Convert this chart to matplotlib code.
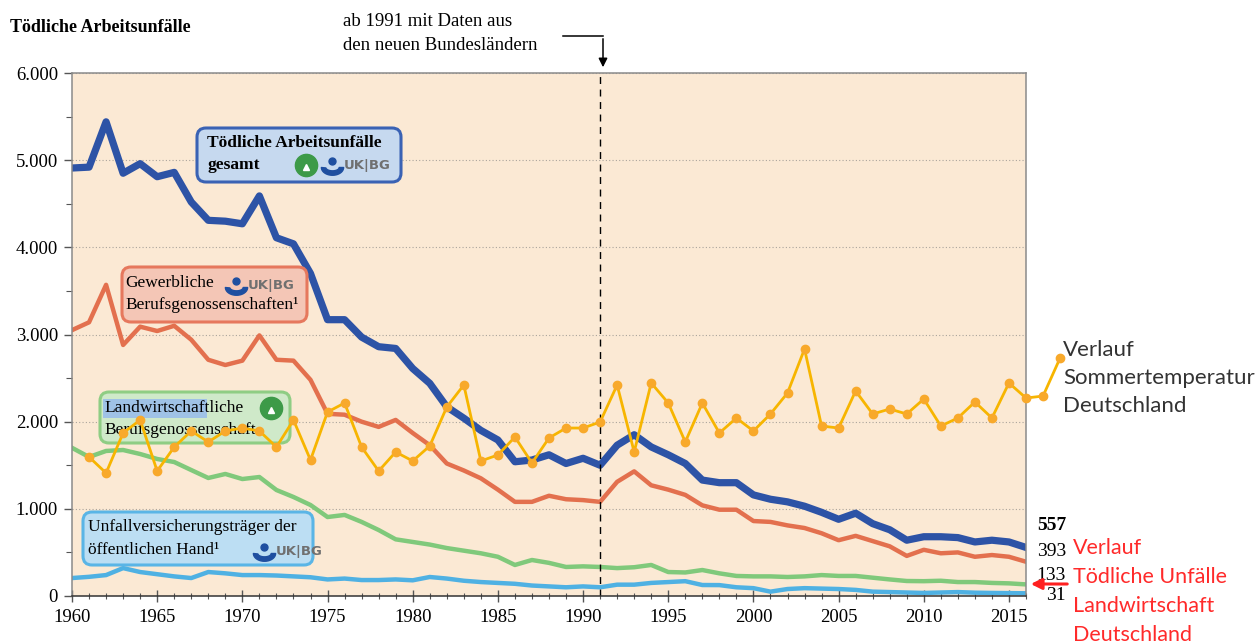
import numpy as np
import matplotlib
matplotlib.use("Agg")
import matplotlib.pyplot as plt
import matplotlib.path as mpath
from matplotlib.patches import FancyBboxPatch, FancyArrowPatch, Rectangle
from matplotlib.transforms import IdentityTransform
from matplotlib.ticker import MultipleLocator, FuncFormatter

# --- data -------------------------------------------------------------
years = list(range(1960, 2017))

gesamt = [4910, 4920, 5440, 4850, 4960, 4810, 4860, 4520, 4310, 4300,
          4270, 4590, 4110, 4040, 3700, 3170, 3170, 2970, 2860, 2840,
          2610, 2440, 2170, 2040, 1900, 1790, 1540, 1560, 1620, 1520,
          1580, 1500, 1730, 1850, 1710, 1620, 1520, 1330, 1300, 1300,
          1160, 1110, 1080, 1030, 960, 880, 950, 830, 760, 640,
          680, 680, 670, 620, 640, 620, 557]

gewerblich = [3050, 3140, 3570, 2880, 3090, 3040, 3100, 2940, 2710, 2650,
              2700, 2990, 2710, 2700, 2480, 2090, 2080, 2000, 1940, 2020,
              1870, 1730, 1520, 1440, 1350, 1220, 1080, 1080, 1150, 1110,
              1100, 1080, 1310, 1430, 1270, 1220, 1160, 1040, 990, 990,
              860, 850, 810, 780, 720, 640, 690, 630, 570, 460,
              530, 490, 500, 450, 470, 450, 393]

landwirtschaft = [1700, 1595, 1664, 1675, 1629, 1572, 1537, 1445, 1354, 1400,
                  1342, 1365, 1216, 1136, 1044, 906, 930, 850, 757, 650,
                  620, 590, 550, 520, 490, 450, 356, 413, 380, 333,
                  340, 333, 320, 330, 356, 275, 270, 298, 260, 230,
                  225, 225, 218, 225, 240, 230, 230, 210, 190, 172,
                  170, 175, 160, 160, 150, 145, 133]

oeffentlich = [206, 220, 240, 320, 275, 250, 225, 206, 275, 260,
               240, 240, 235, 225, 215, 190, 200, 183, 183, 190,
               180, 218, 200, 175, 160, 150, 140, 120, 110, 100,
               110, 100, 130, 130, 150, 160, 170, 126, 125, 100,
               90, 50, 80, 90, 85, 80, 70, 50, 45, 40,
               35, 40, 45, 38, 35, 33, 31]

temp_years = list(range(1961, 2019))
sommertemp = [1595, 1411, 1870, 2019, 1434, 1709, 1893, 1767, 1893, 1927,
              1893, 1709, 2019, 1560, 2111, 2214, 1709, 1434, 1652, 1549,
              1721, 2168, 2421, 1549, 1618, 1824, 1526, 1813, 1927, 1927,
              1996, 2421, 1652, 2444, 2214, 1767, 2214, 1870, 2042, 1893,
              2088, 2329, 2834, 1950, 1927, 2352, 2088, 2145, 2088, 2260,
              1950, 2042, 2226, 2042, 2444, 2271, 2294, 2730]

end_labels = ["557", "393", "133", "31"]

# --- figure -----------------------------------------------------------
W, H = 1260, 643
fig = plt.figure(figsize=(W / 100, H / 100), dpi=100)
ax = fig.add_axes([72 / W, 1 - 596 / H, (1026 - 72) / W, (596 - 73) / H])
ax.set_facecolor("#fbe9d4")

serif = "Liberation Serif"
sans = "Lato"


def px(x, y):
    # pixel position (from top-left) -> display coords
    return x, H - y


def box(x0, y0, x1, y1, face, edge, z=3):
    p = FancyBboxPatch(px(x0, y1), x1 - x0, y1 - y0,
                       boxstyle="round,pad=0,rounding_size=9",
                       transform=IdentityTransform(), facecolor=face,
                       edgecolor=edge, linewidth=2.2, zorder=z, clip_on=False)
    ax.add_patch(p)


def txt(x, y, s, z=6, **kw):
    ax.text(*px(x, y), s, transform=IdentityTransform(), zorder=z,
            clip_on=False, **kw)


# lines
ax.plot(years, oeffentlich, color="#4fb1e3", lw=3.2, zorder=2.1)
ax.plot(years, landwirtschaft, color="#80c97b", lw=3.2, zorder=2.2)
ax.plot(years, gewerblich, color="#e3704e", lw=3.2, zorder=2.3)
ax.plot(years, gesamt, color="#2d53a6", lw=5.2, zorder=2.4)
ax.plot(temp_years, sommertemp, color="#f7b500", lw=2.0, marker="o",
        markersize=6, markerfacecolor="#f8a92b", markeredgecolor="#f8a92b",
        zorder=5, clip_on=False)

ax.axvline(1991, color="black", lw=1.0, ls=(0, (5, 4)), zorder=2.5)

ax.set_xlim(1960, 2016)
ax.set_ylim(0, 6000)
ax.xaxis.set_major_locator(MultipleLocator(5))
ax.xaxis.set_minor_locator(MultipleLocator(1))
ax.yaxis.set_major_locator(MultipleLocator(1000))
ax.yaxis.set_minor_locator(MultipleLocator(500))
ax.yaxis.set_major_formatter(FuncFormatter(lambda v, p: f"{int(v):,}".replace(",", ".")))
ax.set_xticks(range(1960, 2016, 5))
ax.grid(axis="y", color="#aaa49c", ls=(0, (1, 2)), lw=0.8, zorder=1)
ax.set_axisbelow(True)

ax.tick_params(axis="x", which="major", direction="inout", length=9, width=1,
               color="#555555", labelsize=13.5, pad=5)
ax.tick_params(axis="x", which="minor", direction="inout", length=5, width=0.8,
               color="#555555")
ax.tick_params(axis="y", which="major", direction="out", length=6, width=1,
               color="#555555", labelsize=13.5, pad=4)
ax.tick_params(axis="y", which="minor", direction="out", length=4, width=0.8,
               color="#555555")
for lab in ax.get_xticklabels() + ax.get_yticklabels():
    lab.set_fontfamily(serif)
for s in ax.spines.values():
    s.set_color("#8a8a8a")
    s.set_linewidth(1.1)
ax.spines["bottom"].set_color("#333333")

# title and annotation
txt(10, 28, "Tödliche Arbeitsunfälle", fontfamily=serif, fontsize=13,
    fontweight="bold", va="center")
txt(343, 22, "ab 1991 mit Daten aus", fontfamily=serif, fontsize=13.5,
    va="center")
txt(343, 46, "den neuen Bundesländern", fontfamily=serif, fontsize=13.5,
    va="center")
ax.plot([px(563, 36)[0], px(603, 36)[0]], [H - 36, H - 36], color="black",
        lw=1.1, transform=IdentityTransform(), clip_on=False)
ax.add_patch(FancyArrowPatch(px(603, 36), px(603, 70), arrowstyle="-|>",
                             mutation_scale=13, color="black", lw=1.1,
                             transform=IdentityTransform(), clip_on=False))

# logo markers
arc = np.linspace(np.pi, 2 * np.pi, 24)
cup = mpath.Path(np.vstack([np.column_stack([np.cos(arc), np.sin(arc) * 0.7]),
                            np.column_stack([np.cos(arc[::-1]) * 0.6,
                                             np.sin(arc[::-1]) * 0.3])]),
                 closed=True)


def logos(x, y, green=False):
    if green:
        ax.plot(*px(x - 64, y), marker="o", ms=16, color="#3d9a48",
                transform=IdentityTransform(), clip_on=False, zorder=6)
        ax.plot(*px(x - 64, y + 2), marker="^", ms=5, color="white",
                transform=IdentityTransform(), clip_on=False, zorder=6.1)
    ax.plot(*px(x - 38, y + 2), marker=cup, ms=16, color="#1f4fa0",
            transform=IdentityTransform(), clip_on=False, zorder=6)
    ax.plot(*px(x - 38, y - 4), marker="o", ms=5, color="#1f4fa0",
            transform=IdentityTransform(), clip_on=False, zorder=6)
    txt(x - 26, y + 1, "UK|BG", fontfamily="DejaVu Sans", fontsize=9.5,
        fontweight="bold", color="#707070", va="center", ha="left")


# label boxes
box(197, 128, 401, 182, "#c6d9ef", "#3a62b4")
txt(207, 143, "Tödliche Arbeitsunfälle", fontfamily=serif, fontsize=12.5,
    fontweight="bold", va="center")
txt(207, 165, "gesamt", fontfamily=serif, fontsize=12.5, fontweight="bold",
    va="center")
logos(370, 165, green=True)

box(122, 267, 307, 322, "#f4c6b6", "#e6785d")
txt(125, 283, "Gewerbliche", fontfamily=serif, fontsize=12.5, va="center")
txt(125, 305, "Berufsgenossenschaften¹", fontfamily=serif, fontsize=12.5,
    va="center")
logos(274, 285)

box(100, 392, 290, 443, "#cfe9c9", "#8fcd84", z=3)
ax.add_patch(Rectangle(px(103, 418), 104, 19, transform=IdentityTransform(),
                       facecolor="#9fc2e6", edgecolor="none", zorder=3.5,
                       clip_on=False))
txt(104, 408, "Landwirtschaftliche", fontfamily=serif, fontsize=12.5,
    va="center", z=4)
txt(104, 430, "Berufsgenossenschaft", fontfamily=serif, fontsize=12.5,
    va="center", z=4)
ax.plot(*px(271, 408), marker="o", ms=16, color="#3d9a48",
        transform=IdentityTransform(), clip_on=False, zorder=4)
ax.plot(*px(271, 410), marker="^", ms=5, color="white",
        transform=IdentityTransform(), clip_on=False, zorder=4.1)

box(83, 512, 313, 565, "#bcdef3", "#5ab5e6")
txt(88, 527, "Unfallversicherungsträger der", fontfamily=serif, fontsize=12.5,
    va="center")
txt(88, 550, "öffentlichen Hand¹", fontfamily=serif, fontsize=12.5,
    va="center")
logos(302, 551)

# end values
for lab, yy, bold in zip(end_labels, [526, 551, 576, 596], [True, False, False, False]):
    txt(1066, yy, lab, fontfamily=serif, fontsize=14, ha="right", va="center",
        fontweight="bold" if bold else "normal")

# right side annotations
for i, line in enumerate(["Verlauf", "Sommertemperatur", "Deutschland"]):
    txt(1063, 350 + 28 * i, line, fontfamily=sans, fontsize=16, color="#333333",
        va="center")
for i, line in enumerate(["Verlauf", "Tödliche Unfälle", "Landwirtschaft",
                          "Deutschland"]):
    txt(1073, 548 + 29 * i, line, fontfamily=sans, fontsize=15.5, color="#ff2a2a",
        va="center")
ax.add_patch(FancyArrowPatch(px(1070, 584), px(1028, 584), arrowstyle="-|>",
                             mutation_scale=16, color="#ff2020", lw=2.2,
                             transform=IdentityTransform(), clip_on=False,
                             zorder=7))

fig.savefig("out.png", dpi=100, facecolor="white")
